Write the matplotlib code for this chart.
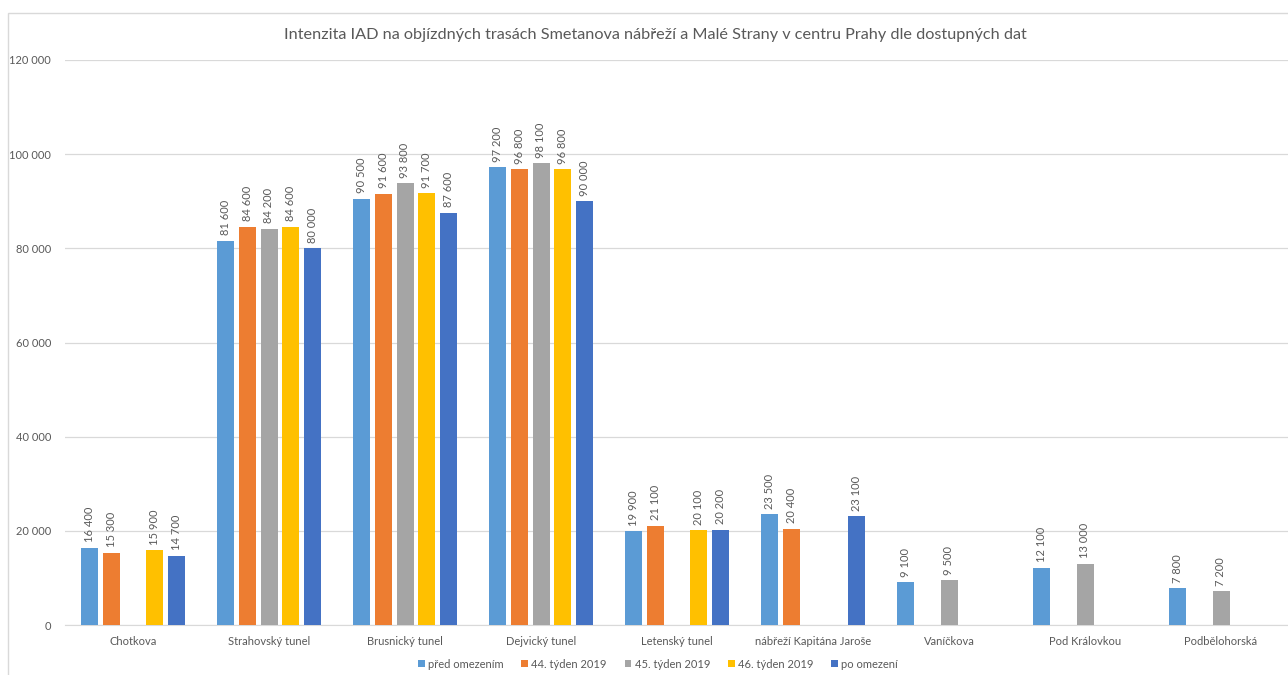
"""Intenzita IAD na objízdných trasách - grouped bar chart."""

import matplotlib

matplotlib.use("Agg")

import matplotlib.pyplot as plt
import numpy as np
from matplotlib.patches import Rectangle


CATEGORIES = [
    "Chotkova",
    "Strahovský tunel",
    "Brusnický tunel",
    "Dejvický tunel",
    "Letenský tunel",
    "nábřeží Kapitána Jaroše",
    "Vaníčkova",
    "Pod Královkou",
    "Podbělohorská",
]

SERIES_NAMES = [
    "před omezením",
    "44. týden 2019",
    "45. týden 2019",
    "46. týden 2019",
    "po omezení",
]

nan = np.nan

PRED_OMEZENIM = [16400, 81600, 90500, 97200, 19900, 23500, 9100, 12100, 7800]
TYDEN_44 = [15300, 84600, 91600, 96800, 21100, 20400, nan, nan, nan]
TYDEN_45 = [nan, 84200, 93800, 98100, nan, nan, 9500, 13000, 7200]
TYDEN_46 = [15900, 84600, 91700, 96800, 20100, nan, nan, nan, nan]
PO_OMEZENI = [14700, 80000, 87600, 90000, 20200, 23100, nan, nan, nan]

COLORS = ["#5B9BD5", "#ED7D31", "#A5A5A5", "#FFC000", "#4472C4"]

Y_TICKS = [0, 20000, 40000, 60000, 80000, 100000, 120000]

TEXT_COLOR = "#595959"


def fmt(value: float) -> str:
    """Format with a space as thousands separator."""

    return f"{int(value):,}".replace(",", " ")


def main() -> None:
    plt.rcParams["font.family"] = ["Lato", "DejaVu Sans"]

    figure = plt.figure(figsize=(12.88, 6.75), dpi=100)
    axis = figure.add_axes([65 / 1288, 50 / 675, 1224 / 1288, 565 / 675])

    series = [PRED_OMEZENIM, TYDEN_44, TYDEN_45, TYDEN_46, PO_OMEZENI]
    x_positions = np.arange(len(CATEGORIES))
    step = 0.16
    width = 0.125

    for index, (name, values, color) in enumerate(
        zip(SERIES_NAMES, series, COLORS)
    ):
        values = np.array(values, dtype=float)
        offsets = x_positions + (index - 2) * step
        axis.bar(
            offsets,
            values,
            width,
            color=color,
            label=name,
            zorder=3,
        )
        for x_value, y_value in zip(offsets, values):
            if np.isnan(y_value):
                continue
            axis.annotate(
                fmt(y_value),
                xy=(x_value, y_value),
                xytext=(0, 4),
                textcoords="offset points",
                rotation=90,
                ha="center",
                va="bottom",
                fontsize=8,
                color=TEXT_COLOR,
            )

    axis.set_xlim(-0.5, len(CATEGORIES) - 0.5)
    axis.set_ylim(0, 120000)
    axis.set_yticks(Y_TICKS, [fmt(v) for v in Y_TICKS])
    axis.set_xticks(x_positions, CATEGORIES)
    axis.tick_params(
        axis="both",
        length=0,
        labelsize=8,
        labelcolor=TEXT_COLOR,
    )
    axis.tick_params(axis="x", pad=8)
    axis.tick_params(axis="y", pad=10)

    for spine in ["top", "right", "left"]:
        axis.spines[spine].set_visible(False)
    axis.spines["bottom"].set_color("#D9D9D9")
    axis.grid(axis="y", color="#D9D9D9", linewidth=0.9, zorder=0)
    axis.set_axisbelow(True)

    figure.text(
        655 / 1288,
        1 - 35 / 675,
        "Intenzita IAD na objízdných trasách Smetanova nábřeží a Malé Strany "
        "v centru Prahy dle dostupných dat",
        ha="center",
        va="center",
        fontsize=11.7,
        color=TEXT_COLOR,
    )

    handles, labels = axis.get_legend_handles_labels()
    figure.legend(
        handles,
        labels,
        loc="center",
        bbox_to_anchor=(658 / 1288, 1 - 664 / 675),
        ncol=5,
        frameon=False,
        fontsize=8,
        labelcolor=TEXT_COLOR,
        handlelength=0.6,
        handleheight=0.6,
        handletextpad=0.3,
        columnspacing=1.6,
    )

    # chart area border
    figure.patches.append(
        Rectangle(
            (8 / 1288, -0.01),
            1.0,
            1 - 13 / 675 + 0.01,
            transform=figure.transFigure,
            fill=False,
            edgecolor="#D9D9D9",
            linewidth=1,
        )
    )

    figure.savefig("out.png", dpi=100)
    plt.close(figure)


if __name__ == "__main__":
    main()
